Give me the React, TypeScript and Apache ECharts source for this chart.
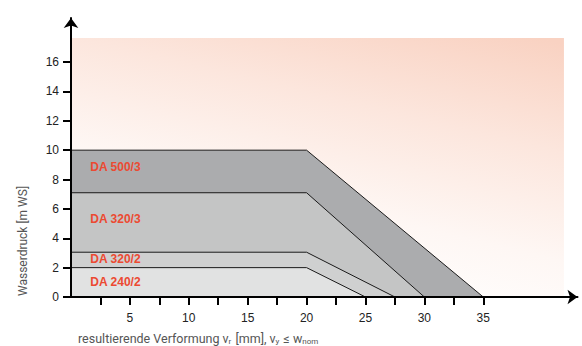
import React, { useEffect, useRef } from "react";
import * as echarts from "echarts";

const seriesNames = ["DA 500/3", "DA 320/3", "DA 320/2", "DA 240/2"];
const da5003 = [[0, 10], [20, 10], [35, 0]];
const da3203 = [[0, 7.1], [20, 7.1], [30, 0]];
const da3202 = [[0, 3.05], [20, 3.05], [27.5, 0]];
const da2402 = [[0, 2.0], [20, 2.0], [25, 0]];
const seriesFills = ["#abacae", "#c4c5c5", "#cfd0d0", "#e1e2e2"];
const labelPoints = [
  [1.6, 8.86, "DA 500/3"],
  [1.6, 5.32, "DA 320/3"],
  [1.6, 2.59, "DA 320/2"],
  [1.6, 1.02, "DA 240/2"],
];
const xTicks = [2.5, 5, 7.5, 10, 12.5, 15, 17.5, 20, 22.5, 25, 27.5, 30, 32.5, 35];
const xLabels = [5, 10, 15, 20, 25, 30, 35];
const yTicks = [0, 2, 4, 6, 8, 10, 12, 14, 16];
const bgArea = [[0, 0], [41.85, 17.63]];

export default function App() {
  const ref = useRef<HTMLDivElement>(null);
  useEffect(() => {
    if (!ref.current) return;
    const chart = echarts.init(ref.current, null, { renderer: "svg" });
    const allData = [da5003, da3203, da3202, da2402];
    const lineSeries = allData.map((d, i) => ({
      type: "line",
      name: seriesNames[i],
      data: d,
      showSymbol: false,
      symbol: "none",
      z: 3 + i,
      lineStyle: { color: "#1a1a1a", width: 1 },
      areaStyle: { color: seriesFills[i], opacity: 1 },
      silent: true,
      ...(i === 0
        ? {
            markArea: {
              silent: true,
              z: 1,
              itemStyle: {
                color: {
                  type: "linear",
                  x: 0.95,
                  y: 0,
                  x2: 0.5,
                  y2: 1,
                  colorStops: [
                    { offset: 0, color: "#f9d2c2" },
                    { offset: 0.35, color: "#fce6dd" },
                    { offset: 0.7, color: "#fef7f4" },
                    { offset: 1, color: "#ffffff" },
                  ],
                },
              },
              data: [[{ coord: bgArea[0] }, { coord: bgArea[1] }]],
            },
          }
        : {}),
    }));
    const font = "Liberation Sans, Arial, sans-serif";
    chart.setOption({
      animation: false,
      grid: { left: 71, right: 4.5, top: 18, bottom: 49 },
      xAxis: {
        type: "value",
        min: 0,
        max: 43,
        z: 10,
        splitLine: { show: false },
        axisLine: {
          show: true,
          lineStyle: { color: "#000", width: 2 },
          symbol: ["none", "arrow"],
          symbolSize: [11, 10],
        },
        axisTick: {
          show: true,
          customValues: xTicks,
          length: 8,
          lineStyle: { color: "#000", width: 2 },
        },
        axisLabel: {
          customValues: xLabels,
          margin: 15,
          color: "#222",
          fontSize: 12,
          fontFamily: font,
        },
      },
      yAxis: {
        type: "value",
        min: 0,
        max: 19,
        z: 10,
        splitLine: { show: false },
        axisLine: {
          show: true,
          lineStyle: { color: "#000", width: 2 },
          symbol: ["none", "arrow"],
          symbolSize: [11, 10],
        },
        axisTick: {
          show: true,
          customValues: yTicks,
          length: 8,
          lineStyle: { color: "#000", width: 2 },
        },
        axisLabel: {
          customValues: yTicks,
          margin: 12,
          color: "#222",
          fontSize: 12,
          fontFamily: font,
        },
      },
      series: [
        ...lineSeries,
        {
          type: "scatter",
          z: 20,
          data: labelPoints,
          symbolSize: 1,
          itemStyle: { color: "rgba(0,0,0,0)", opacity: 1 },
          silent: true,
          label: {
            show: true,
            position: "right",
            distance: 0,
            opacity: 1,
            formatter: (p: any) => p.value[2],
            color: "#ec4a32",
            fontWeight: "bold",
            fontSize: 12,
            fontFamily: font,
          },
        },
      ],
      graphic: [
        {
          type: "text",
          x: 23,
          y: 241,
          rotation: Math.PI / 2,
          style: {
            text: "Wasserdruck [m WS]",
            font: "12px Roboto, sans-serif",
            fill: "#555",
            align: "center",
            verticalAlign: "middle",
          },
        },
        {
          type: "text",
          x: 78,
          y: 338,
          style: {
            text: "resultierende Verformung v{s|r} [mm], v{s|y} ≤ w{s|nom}",
            fontSize: 12.5,
            fontFamily: "Roboto, sans-serif",
            fill: "#555",
            align: "left",
            verticalAlign: "middle",
            lineHeight: 15,
            rich: {
              s: {
                fontSize: 8,
                fontFamily: "Roboto, sans-serif",
                fill: "#555",
                lineHeight: 13,
                verticalAlign: "bottom",
                padding: [4, 1, 0, 0],
              },
            },
          },
        },
      ],
    });
    return () => chart.dispose();
  }, []);
  return (
    <div
      ref={ref}
      style={{ position: "absolute", left: 0, top: 0, width: 582, height: 346 }}
    />
  );
}
